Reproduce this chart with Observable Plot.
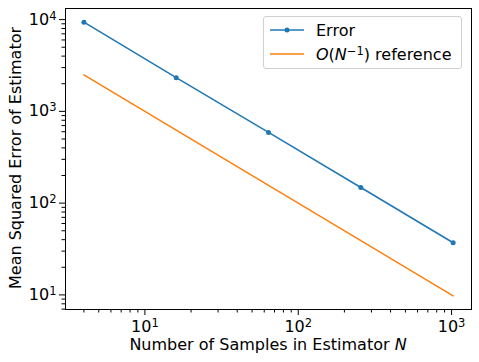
<!DOCTYPE html>
<html><head><meta charset="utf-8">
<script src="https://cdn.jsdelivr.net/npm/d3@7"></script>
<script src="https://cdn.jsdelivr.net/npm/@observablehq/plot@0.6"></script>
<style>
body{margin:0;background:#fff}
#wrap{position:relative;width:479px;height:362px;font-family:"DejaVu Sans",sans-serif}
#legend{position:absolute;left:263px;top:16px;width:197px;height:51px;border:1px solid #d0d0d0;border-radius:3px;background:rgba(255,255,255,0.8);font-size:16px;color:#000}
.row{position:absolute;left:6px;height:20px;display:flex;align-items:center}
.row span{margin-left:12px;white-space:nowrap}
</style>
</head><body><div id="wrap"><div id="legend"></div></div>
<script>
const samples = [4, 16, 64, 256, 1024];
const errorValues = [9380, 2330, 590, 148, 37];
const referenceValues = [2500, 625, 156.25, 39.06, 9.77];
const xMajorTicks = [10, 100, 1000];
const xMinorTicks = [4,5,6,7,8,9,20,30,40,50,60,70,80,90,200,300,400,500,600,700,800,900];
const yMajorTicks = [10, 100, 1000, 10000];
const yMinorTicks = [7,8,9,20,30,40,50,60,70,80,90,200,300,400,500,600,700,800,900,2000,3000,4000,5000,6000,7000,8000,9000];
const seriesNames = ["Error", "O(N⁻¹) reference"];
const colors = ["#1f77b4", "#ff7f0e"];

const fmt = d => "10^" + Math.round(Math.log10(d));

const errData = samples.map((n, i) => ({n, v: errorValues[i]}));
const refData = samples.map((n, i) => ({n, v: referenceValues[i]}));

const chart = Plot.plot({
  width: 479, height: 362,
  marginLeft: 65, marginTop: 8, marginRight: 8, marginBottom: 53,
  style: {fontFamily: "DejaVu Sans, sans-serif", fontSize: "16px", color: "#000", background: "#fff"},
  x: {type: "log", domain: [Math.pow(10, 0.482), Math.pow(10, 3.130)]},
  y: {type: "log", domain: [Math.pow(10, 0.841), Math.pow(10, 4.121)]},
  marks: [
    Plot.axisX(xMinorTicks, {tickSize: 3.5, tickFormat: () => "", label: null, stroke: "#000"}),
    Plot.axisX(xMajorTicks, {tickSize: 6, tickPadding: 5, tickFormat: fmt, label: null, stroke: "#000", fontSize: 16}),
    Plot.axisY(yMinorTicks, {tickSize: 3.5, tickFormat: () => "", label: null, stroke: "#000"}),
    Plot.axisY(yMajorTicks, {tickSize: 6, tickPadding: 3, tickFormat: fmt, label: null, stroke: "#000", fontSize: 16}),
    Plot.line(refData, {x: "n", y: "v", stroke: colors[1], strokeWidth: 1.5}),
    Plot.line(errData, {x: "n", y: "v", stroke: colors[0], strokeWidth: 1.5}),
    Plot.dot(errData, {x: "n", y: "v", r: 2.5, fill: colors[0], stroke: "none"}),
    Plot.frame({stroke: "#000", strokeWidth: 1})
  ]
});
document.getElementById("wrap").prepend(chart);

const svg = d3.select(chart);
// render tick labels "10^k" as 10 with a raised exponent
svg.selectAll("text").each(function () {
  const t = d3.select(this);
  const tsp = t.selectAll("tspan");
  const target = tsp.empty() ? t : tsp;
  target.each(function () {
    const el = d3.select(this);
    const s = el.text();
    const m = /^10\^(-?\d+)$/.exec(s);
    if (m) {
      el.text("10");
      el.append("tspan").attr("dy", "-0.45em").style("font-size", "11.5px").text(m[1]);
    }
  });
});

const xl = svg.append("text").attr("x", 268).attr("y", 350).attr("text-anchor", "middle")
  .style("font-size", "16px").attr("fill", "#000");
xl.append("tspan").text("Number of Samples in Estimator ");
xl.append("tspan").attr("font-style", "italic").text("N");
svg.append("text").attr("transform", "translate(21,158) rotate(-90)").attr("text-anchor", "middle")
  .style("font-size", "16px").attr("fill", "#000").text("Mean Squared Error of Estimator");

const legend = document.getElementById("legend");
seriesNames.forEach((name, i) => {
  const row = document.createElement("div");
  row.className = "row";
  row.style.top = (3 + i * 24) + "px";
  const marker = i === 0 ? `<circle cx="17" cy="10" r="2.5" fill="${colors[i]}"/>` : "";
  row.innerHTML = `<svg width="34" height="20"><line x1="0" x2="34" y1="10" y2="10" stroke="${colors[i]}" stroke-width="1.5"/>${marker}</svg>`;
  const label = document.createElement("span");
  if (i === 1) {
    label.innerHTML = `<i>O</i>(<i>N</i><sup style="font-size:11.5px;vertical-align:0.45em;line-height:0">−1</sup>) reference`;
  } else label.textContent = name;
  row.appendChild(label);
  legend.appendChild(row);
});
</script></body></html>
